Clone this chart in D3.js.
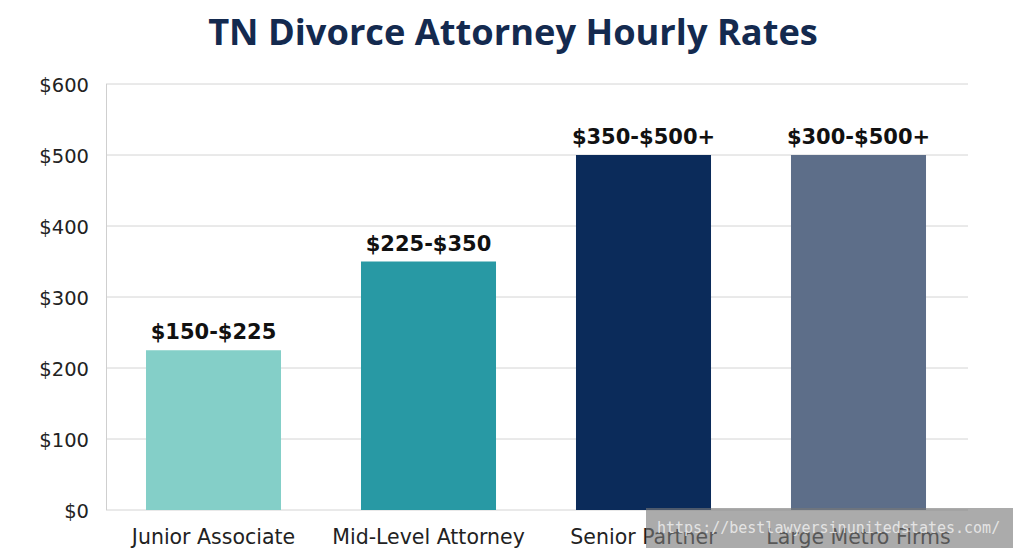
<!DOCTYPE html>
<html><head><meta charset="utf-8">
<script src="https://cdn.jsdelivr.net/npm/d3@7"></script>
<style>body{margin:0;background:#fff;}svg{display:block;}</style>
</head><body>
<svg id="c" width="1024" height="559"></svg>
<script>
const categories = ["Junior Associate", "Mid-Level Attorney", "Senior Partner", "Large Metro Firms"];
const values = [225, 350, 500, 500];
const rangeLabels = ["$150-$225", "$225-$350", "$350-$500+", "$300-$500+"];
const colors = ["#84cfc8", "#2899a4", "#0b2b5a", "#5d6e89"];
const yTicks = [0, 100, 200, 300, 400, 500, 600];
const title = "TN Divorce Attorney Hourly Rates";
const watermark = "https://bestlawyersinunitedstates.com/";

const svg = d3.select("#c");
const font = "'Open Sans', 'Noto Sans', sans-serif";
const wide = "'DejaVu Sans', sans-serif";
const x = d3.scaleBand().domain(categories).range([106, 966]).paddingInner(0.372).paddingOuter(0.186);
const y = d3.scaleLinear().domain([0, 600]).range([510, 84]);

function fitW(sel, w) {
  sel.each(function () {
    const s = d3.select(this);
    const l = this.getComputedTextLength();
    const fs = parseFloat(s.attr("font-size"));
    s.attr("font-size", fs * w / l);
  });
}

// grid
svg.append("g").selectAll("line").data(yTicks).join("line")
  .attr("x1", 106).attr("x2", 968).attr("y1", d => y(d)).attr("y2", d => y(d))
  .attr("stroke", "#d4d4d4").attr("stroke-width", 1);
svg.append("line").attr("x1", 106.5).attr("x2", 106.5).attr("y1", y(600)).attr("y2", y(0))
  .attr("stroke", "#cfcfcf");

// y axis
const ya = svg.append("g").attr("transform", "translate(106,0)")
  .call(d3.axisLeft(y).tickValues(yTicks).tickFormat(d => "$" + d).tickSize(0).tickPadding(17));
ya.select(".domain").remove();
ya.selectAll("text").attr("font-family", wide).attr("font-size", 19.5).attr("fill", "#222")
  .attr("dy", "0.36em");

// bars
svg.append("g").selectAll("rect").data(categories).join("rect")
  .attr("x", d => x(d)).attr("width", x.bandwidth())
  .attr("y", (d, i) => y(values[i])).attr("height", (d, i) => y(0) - y(values[i]))
  .attr("fill", (d, i) => colors[i]);

// value labels
svg.append("g").selectAll("text").data(categories).join("text")
  .attr("x", d => x(d) + x.bandwidth() / 2).attr("y", (d, i) => y(values[i]) - 11)
  .attr("text-anchor", "middle").attr("font-family", wide).attr("font-weight", 700)
  .attr("font-size", 21).attr("fill", "#111").text((d, i) => rangeLabels[i]);

// x axis
const xa = svg.append("g").attr("transform", "translate(0,510)")
  .call(d3.axisBottom(x).tickSize(0).tickPadding(19));
xa.select(".domain").remove();
xa.selectAll("text").attr("font-family", wide).attr("font-size", 20.5).attr("fill", "#222");

// title
const t = svg.append("text").attr("x", 513).attr("y", 45).attr("text-anchor", "middle")
  .attr("font-family", font).attr("font-weight", 700).attr("font-size", 32)
  .attr("fill", "#142a4f").text(title);
fitW(t, 610);

// watermark
svg.append("rect").attr("x", 646).attr("y", 508).attr("width", 367).attr("height", 40)
  .attr("fill", "rgba(120,120,120,0.62)");
svg.append("text").attr("x", 657).attr("y", 533).attr("font-family", "'DejaVu Sans Mono', monospace")
  .attr("font-size", 15).attr("fill", "rgba(235,235,235,0.9)").text(watermark);
</script>
</body></html>
